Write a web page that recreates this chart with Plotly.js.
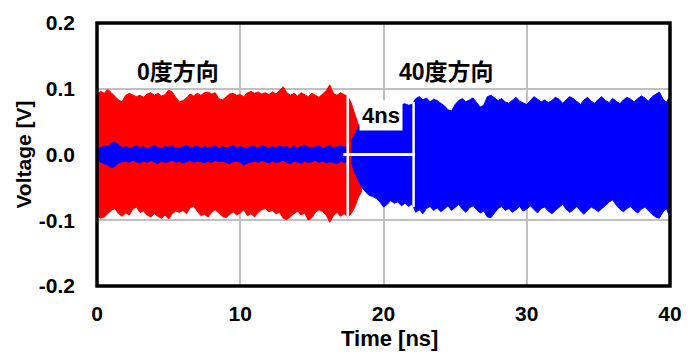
<!DOCTYPE html>
<html><head><meta charset="utf-8">
<script src="https://cdn.plot.ly/plotly-3.0.1.min.js"></script>
<style>body{margin:0;padding:0;background:#fff}#chart{width:693px;height:359px}</style>
</head><body><div id="chart"></div>
<script>
// sample step of the envelope readings (ns)
const stepNs = 0.25;
// 0-degree direction (red): envelope of the dense oscillation, t = 0 .. 18.5 ns
const redStart = 0;
const redTop = [0.092,0.096,0.093,0.099,0.094,0.089,0.083,0.080,0.090,0.093,
0.091,0.088,0.090,0.087,0.092,0.094,0.090,0.093,0.089,0.091,
0.098,0.095,0.087,0.080,0.082,0.086,0.092,0.089,0.093,0.090,
0.094,0.095,0.092,0.094,0.085,0.083,0.087,0.092,0.093,0.090,
0.091,0.088,0.094,0.096,0.093,0.095,0.092,0.094,0.091,0.095,
0.092,0.097,0.103,0.094,0.090,0.093,0.089,0.094,0.091,0.088,
0.093,0.090,0.087,0.092,0.097,0.106,0.093,0.090,0.094,0.091,
0.089,0.078,0.060,0.045,0.030];
const redBottom = [-0.093,-0.097,-0.095,-0.090,-0.085,-0.082,-0.090,-0.094,-0.089,-0.092,
-0.083,-0.080,-0.088,-0.086,-0.092,-0.095,-0.090,-0.094,-0.097,-0.092,
-0.098,-0.090,-0.086,-0.088,-0.085,-0.090,-0.081,-0.079,-0.086,-0.093,
-0.091,-0.095,-0.088,-0.084,-0.089,-0.094,-0.096,-0.091,-0.087,-0.092,
-0.089,-0.084,-0.093,-0.090,-0.095,-0.088,-0.084,-0.082,-0.087,-0.085,
-0.090,-0.088,-0.097,-0.099,-0.094,-0.090,-0.086,-0.092,-0.089,-0.100,
-0.096,-0.088,-0.084,-0.087,-0.092,-0.103,-0.093,-0.088,-0.094,-0.090,
-0.095,-0.090,-0.080,-0.065,-0.055];
// 40-degree direction (blue), weak part: t = 0 .. 17.5 ns
const blueLowStart = 0;
const blueLowTop = [0.008,0.011,0.013,0.012,0.017,0.019,0.014,0.010,0.012,0.009,
0.011,0.013,0.010,0.012,0.008,0.011,0.014,0.010,0.009,0.012,
0.011,0.013,0.009,0.010,0.012,0.014,0.010,0.011,0.013,0.009,
0.012,0.010,0.011,0.013,0.009,0.012,0.010,0.011,0.014,0.010,
0.012,0.011,0.009,0.013,0.012,0.010,0.014,0.011,0.009,0.012,
0.010,0.013,0.011,0.012,0.009,0.013,0.010,0.012,0.014,0.011,
0.010,0.012,0.013,0.009,0.011,0.014,0.010,0.012,0.013,0.011,
0.012];
const blueLowBottom = [-0.009,-0.012,-0.014,-0.016,-0.020,-0.018,-0.013,-0.011,-0.010,-0.012,
-0.009,-0.011,-0.013,-0.010,-0.012,-0.009,-0.011,-0.014,-0.010,-0.012,
-0.011,-0.009,-0.012,-0.010,-0.013,-0.011,-0.009,-0.012,-0.010,-0.011,
-0.013,-0.010,-0.012,-0.009,-0.011,-0.010,-0.012,-0.014,-0.011,-0.010,
-0.012,-0.016,-0.013,-0.011,-0.010,-0.012,-0.009,-0.011,-0.013,-0.010,
-0.012,-0.011,-0.009,-0.012,-0.014,-0.010,-0.011,-0.013,-0.010,-0.012,
-0.011,-0.009,-0.012,-0.010,-0.013,-0.011,-0.012,-0.014,-0.010,-0.012,
-0.011];
// 40-degree direction (blue), main part: t = 17.75 .. 40 ns
const blueStart = 17.75;
const blueTop = [0.020,0.032,0.042,0.050,0.058,0.063,0.067,0.070,0.072,0.073,
0.075,0.076,0.079,0.078,0.076,0.077,0.075,0.076,
0.085,0.088,0.083,0.086,0.080,0.084,0.082,0.078,0.074,0.068,
0.066,0.076,0.082,0.085,0.080,0.083,0.086,0.079,0.072,0.075,
0.088,0.090,0.086,0.082,0.085,0.080,0.078,0.083,0.087,0.081,
0.079,0.076,0.082,0.088,0.084,0.080,0.083,0.079,0.082,0.087,
0.084,0.078,0.083,0.088,0.085,0.080,0.076,0.083,0.087,0.081,
0.078,0.084,0.088,0.082,0.079,0.085,0.081,0.077,0.083,0.087,
0.084,0.080,0.085,0.089,0.086,0.081,0.088,0.092,0.095,0.085,
0.079,0.090];
const blueBottom = [-0.012,-0.028,-0.040,-0.050,-0.057,-0.062,-0.064,-0.067,-0.072,-0.080,
-0.076,-0.070,-0.074,-0.072,-0.078,-0.074,-0.079,-0.075,
-0.088,-0.084,-0.090,-0.082,-0.079,-0.085,-0.081,-0.087,-0.083,-0.078,
-0.085,-0.080,-0.076,-0.083,-0.088,-0.081,-0.078,-0.084,-0.089,-0.086,
-0.095,-0.096,-0.088,-0.082,-0.079,-0.085,-0.082,-0.088,-0.084,-0.079,
-0.086,-0.083,-0.078,-0.084,-0.089,-0.082,-0.080,-0.086,-0.090,-0.085,
-0.081,-0.076,-0.083,-0.088,-0.084,-0.079,-0.086,-0.091,-0.085,-0.080,
-0.083,-0.087,-0.082,-0.078,-0.072,-0.069,-0.077,-0.083,-0.087,-0.082,
-0.079,-0.085,-0.089,-0.083,-0.080,-0.086,-0.091,-0.095,-0.097,-0.088,
-0.082,-0.096];
// annotation: switch interval markers (ns)
const switchTimes = [17.5, 22.1];
const xTicks = [0, 10, 20, 30, 40];
const yTickVals = [-0.2, -0.1, 0, 0.1, 0.2];
const yTickText = ['-0.2', '-0.1', '0.0', '0.1', '0.2'];
const labels = ['0度方向', '40度方向', '4ns'];

const RED = '#ff0000', BLUE = '#0000ff';
const FONT = 'Liberation Sans, Arial, sans-serif';
const CJK = 'Liberation Sans, Arial, Noto Sans CJK JP, sans-serif';

function band(start, lo, hi, color) {
  return [
    {type:'scatter', mode:'lines', x0:start, dx:stepNs, y:lo, line:{color:color, width:1}, hoverinfo:'skip', showlegend:false},
    {type:'scatter', mode:'lines', x0:start, dx:stepNs, y:hi, line:{color:color, width:1}, fill:'tonexty', fillcolor:color, hoverinfo:'skip', showlegend:false}
  ];
}
const data = [].concat(
  band(redStart, redBottom, redTop, RED),
  band(blueLowStart, blueLowBottom, blueLowTop, BLUE),
  band(blueStart, blueBottom, blueTop, BLUE)
);

const layout = {
  width:693, height:359,
  margin:{l:97, r:23, t:23, b:73},
  paper_bgcolor:'#fff', plot_bgcolor:'#fff',
  showlegend:false,
  xaxis:{range:[0,40], tickvals:xTicks, ticks:'', showgrid:true, gridcolor:'#c0c0c0', gridwidth:2,
         zeroline:false, showline:false, ticklabelstandoff:13,
         tickfont:{family:FONT, size:21, color:'#000', weight:'bold'}},
  yaxis:{range:[-0.2,0.2], tickvals:yTickVals, ticktext:yTickText, ticks:'', showgrid:true, gridcolor:'#c0c0c0', gridwidth:2,
         zeroline:false, showline:false, ticklabelstandoff:21,
         tickfont:{family:FONT, size:21, color:'#000', weight:'bold'}},
  shapes:[
    {type:'line', xref:'x', yref:'y', x0:switchTimes[0], x1:switchTimes[0], y0:0.095, y1:-0.095, line:{color:'#fff', width:2.5}},
    {type:'line', xref:'x', yref:'y', x0:switchTimes[1], x1:switchTimes[1], y0:0.08, y1:-0.08, line:{color:'#fff', width:2.5}},
    {type:'line', xref:'x', yref:'y', x0:switchTimes[0]-0.3, x1:switchTimes[1]+0.1, y0:0, y1:0, line:{color:'#fff', width:3}},
    {type:'rect', xref:'paper', yref:'paper', x0:0, x1:1, y0:0, y1:1, line:{color:'#000', width:3.5}, layer:'above'}
  ],
  annotations:[
    {xref:'x', yref:'y', x:5.66, y:0.126, text:labels[0], showarrow:false, font:{family:CJK, size:23, color:'#000', weight:'bold'}},
    {xref:'x', yref:'y', x:24.4, y:0.126, text:labels[1], showarrow:false, font:{family:CJK, size:23, color:'#000', weight:'bold'}},
    {xref:'x', yref:'y', x:19.8, y:0.060, text:labels[2], showarrow:false, bgcolor:'#fff', borderpad:2, font:{family:FONT, size:22, color:'#000', weight:'bold'}},
    {xref:'paper', yref:'paper', x:-0.129, y:0.5, text:'Voltage [V]', textangle:-90, showarrow:false, xanchor:'center', yanchor:'middle', font:{family:FONT, size:21, color:'#000', weight:'bold'}},
    {xref:'paper', yref:'paper', x:0.511, y:-0.2, text:'Time [ns]', showarrow:false, xanchor:'center', yanchor:'middle', font:{family:FONT, size:22, color:'#000', weight:'bold'}}
  ]
};
Plotly.newPlot('chart', data, layout, {staticPlot:true, displayModeBar:false});
</script></body></html>
